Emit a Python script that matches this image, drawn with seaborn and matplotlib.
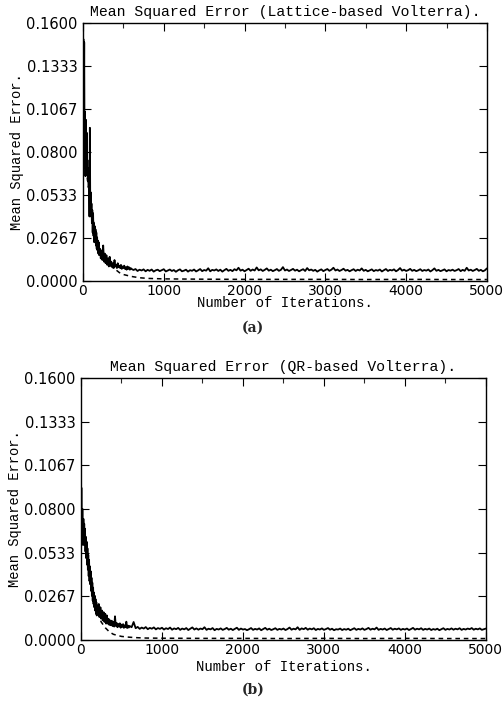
import numpy as np
import pandas as pd
import matplotlib
matplotlib.use("Agg")
import matplotlib.pyplot as plt
import seaborn as sns

# ---------------- data ----------------
titles = ["Mean Squared Error (Lattice-based Volterra).",
          "Mean Squared Error (QR-based Volterra)."]
captions = ["(a)", "(b)"]
xlabel = "Number of Iterations."
ylabel = "Mean Squared Error."
yticks = [0.0, 0.0267, 0.0533, 0.0800, 0.1067, 0.1333, 0.1600]
ytick_labels = ["0.0000", "0.0267", "0.0533", "0.0800", "0.1067", "0.1333", "0.1600"]
xticks = [0, 1000, 2000, 3000, 4000, 5000]
xtick_labels = ["0", "1000", "2000", "3000", "4000", "5000"]

# iteration grids for the noisy (solid) curves
iter_early = np.arange(0, 201, 5)      # 41 points
iter_mid = np.arange(210, 601, 10)     # 40 points
iter_tail = np.arange(625, 5001, 25)   # 176 points

# (a) Lattice-based: solid noisy curve
lat_early = [0.060, 0.150, 0.095, 0.148, 0.070, 0.105, 0.065, 0.100, 0.068, 0.092,
             0.066, 0.075, 0.062, 0.070, 0.058, 0.066, 0.040, 0.095, 0.045, 0.055,
             0.040, 0.048, 0.036, 0.044, 0.030, 0.042, 0.028, 0.036, 0.024, 0.034,
             0.026, 0.032, 0.022, 0.030, 0.020, 0.027, 0.019, 0.025, 0.017, 0.024,
             0.016]
lat_mid = [0.020, 0.014, 0.019, 0.013, 0.022, 0.012, 0.017, 0.011, 0.016, 0.010,
           0.014, 0.009, 0.015, 0.010, 0.012, 0.009, 0.011, 0.008, 0.013, 0.009,
           0.010, 0.008, 0.011, 0.0085, 0.0095, 0.008, 0.010, 0.0075, 0.009, 0.008,
           0.0095, 0.0075, 0.0085, 0.007, 0.009, 0.0075, 0.0085, 0.007, 0.008, 0.0075]
lat_tail = [
    0.0068, 0.0074, 0.0062, 0.0070, 0.0065, 0.0072, 0.0060, 0.0069, 0.0063, 0.0071, 0.0058, 0.0066, 0.0070, 0.0061, 0.0067, 0.0073,
    0.0059, 0.0065, 0.0071, 0.0062, 0.0068, 0.0057, 0.0066, 0.0072, 0.0060, 0.0064, 0.0070, 0.0058, 0.0067, 0.0063, 0.0071, 0.0059,
    0.0066, 0.0074, 0.0061, 0.0068, 0.0064, 0.0079, 0.0060, 0.0069, 0.0065, 0.0072, 0.0062, 0.0070, 0.0058, 0.0067, 0.0075, 0.0063,
    0.0069, 0.0061, 0.0073, 0.0066, 0.0082, 0.0064, 0.0070, 0.0060, 0.0068, 0.0076, 0.0063, 0.0071, 0.0065, 0.0084, 0.0066, 0.0072,
    0.0062, 0.0069, 0.0078, 0.0064, 0.0070, 0.0061, 0.0067, 0.0074, 0.0063, 0.0069, 0.0086, 0.0065, 0.0071, 0.0062, 0.0068, 0.0075,
    0.0064, 0.0070, 0.0060, 0.0067, 0.0073, 0.0062, 0.0080, 0.0066, 0.0071, 0.0063, 0.0069, 0.0058, 0.0066, 0.0072, 0.0061, 0.0068,
    0.0074, 0.0063, 0.0070, 0.0082, 0.0065, 0.0071, 0.0062, 0.0068, 0.0076, 0.0064, 0.0069, 0.0060, 0.0067, 0.0073, 0.0062, 0.0070,
    0.0065, 0.0078, 0.0063, 0.0069, 0.0060, 0.0066, 0.0072, 0.0061, 0.0068, 0.0064, 0.0071, 0.0059, 0.0067, 0.0074, 0.0062, 0.0069,
    0.0065, 0.0072, 0.0060, 0.0068, 0.0080, 0.0064, 0.0070, 0.0062, 0.0067, 0.0075, 0.0063, 0.0069, 0.0061, 0.0066, 0.0073, 0.0062,
    0.0068, 0.0064, 0.0071, 0.0059, 0.0067, 0.0078, 0.0063, 0.0069, 0.0061, 0.0066, 0.0072, 0.0060, 0.0068, 0.0064, 0.0070, 0.0062,
    0.0067, 0.0074, 0.0061, 0.0069, 0.0063, 0.0082, 0.0065, 0.0070, 0.0062, 0.0068, 0.0075, 0.0063, 0.0069, 0.0060, 0.0066, 0.0078]

# (b) QR-based: solid noisy curve
qr_early = [0.055, 0.093, 0.060, 0.080, 0.080, 0.058, 0.074, 0.062, 0.071, 0.058,
            0.068, 0.054, 0.063, 0.050, 0.060, 0.046, 0.056, 0.043, 0.052, 0.039,
            0.049, 0.036, 0.045, 0.034, 0.042, 0.030, 0.038, 0.027, 0.035, 0.024,
            0.032, 0.022, 0.029, 0.020, 0.027, 0.018, 0.025, 0.016, 0.023, 0.015,
            0.021]
qr_mid = [0.016, 0.022, 0.014, 0.020, 0.013, 0.018, 0.012, 0.017, 0.011, 0.016,
          0.010, 0.015, 0.0100, 0.013, 0.0092, 0.012, 0.0090, 0.0118, 0.0085, 0.0110,
          0.0082, 0.0145, 0.0086, 0.0105, 0.0078, 0.0098, 0.0082, 0.0102, 0.0075, 0.0094,
          0.0080, 0.0097, 0.0074, 0.0090, 0.0078, 0.0112, 0.0073, 0.0088, 0.0076, 0.0086]
qr_tail = [
    0.0078, 0.0110, 0.0072, 0.0080, 0.0068, 0.0076, 0.0070, 0.0079, 0.0066, 0.0074, 0.0069, 0.0077, 0.0065, 0.0073, 0.0068, 0.0075,
    0.0064, 0.0072, 0.0067, 0.0076, 0.0063, 0.0071, 0.0066, 0.0074, 0.0062, 0.0070, 0.0065, 0.0073, 0.0061, 0.0069, 0.0077, 0.0064,
    0.0071, 0.0063, 0.0070, 0.0066, 0.0078, 0.0062, 0.0069, 0.0065, 0.0073, 0.0060, 0.0068, 0.0064, 0.0071, 0.0062, 0.0067, 0.0074,
    0.0063, 0.0069, 0.0061, 0.0068, 0.0075, 0.0062, 0.0070, 0.0064, 0.0067, 0.0060, 0.0066, 0.0073, 0.0062, 0.0068, 0.0064, 0.0071,
    0.0060, 0.0067, 0.0074, 0.0063, 0.0069, 0.0061, 0.0066, 0.0072, 0.0062, 0.0068, 0.0064, 0.0070, 0.0061, 0.0067, 0.0076, 0.0063,
    0.0069, 0.0065, 0.0078, 0.0062, 0.0071, 0.0066, 0.0074, 0.0063, 0.0070, 0.0065, 0.0072, 0.0061, 0.0068, 0.0064, 0.0071, 0.0062,
    0.0067, 0.0073, 0.0063, 0.0069, 0.0060, 0.0066, 0.0064, 0.0070, 0.0061, 0.0067, 0.0063, 0.0069, 0.0060, 0.0066, 0.0072, 0.0062,
    0.0068, 0.0064, 0.0071, 0.0062, 0.0067, 0.0074, 0.0063, 0.0069, 0.0065, 0.0076, 0.0062, 0.0068, 0.0064, 0.0070, 0.0061, 0.0067,
    0.0073, 0.0063, 0.0069, 0.0065, 0.0071, 0.0062, 0.0068, 0.0064, 0.0070, 0.0061, 0.0067, 0.0074, 0.0063, 0.0069, 0.0065, 0.0072,
    0.0062, 0.0068, 0.0064, 0.0070, 0.0061, 0.0067, 0.0063, 0.0069, 0.0060, 0.0066, 0.0072, 0.0062, 0.0068, 0.0064, 0.0071, 0.0063,
    0.0069, 0.0065, 0.0072, 0.0062, 0.0068, 0.0064, 0.0070, 0.0066, 0.0073, 0.0063, 0.0069, 0.0065, 0.0071, 0.0062, 0.0066, 0.0070]

# dashed (smooth) curves
dash_iter = [0, 25, 50, 75, 100, 125, 150, 175, 200, 250, 300, 350, 400, 450, 500,
             600, 700, 800, 1000, 1500, 2000, 2500, 3000, 3500, 4000, 4500, 5000]
lat_dash = [0.070, 0.072, 0.065, 0.056, 0.046, 0.038, 0.030, 0.024, 0.018, 0.014,
            0.011, 0.0090, 0.0072, 0.0052, 0.0040, 0.0028, 0.0020, 0.0016, 0.0013,
            0.0011, 0.0010, 0.0010, 0.0010, 0.0009, 0.0010, 0.0009, 0.0009]
qr_dash = [0.060, 0.066, 0.062, 0.052, 0.042, 0.034, 0.027, 0.021, 0.017, 0.011,
           0.0075, 0.0050, 0.0035, 0.0028, 0.0022, 0.0017, 0.0014, 0.0012, 0.0011,
           0.0010, 0.0010, 0.0009, 0.0010, 0.0009, 0.0010, 0.0009, 0.0009]

# ---------------- plotting ----------------
sns.set_theme(style="ticks")
plt.rcParams["font.family"] = ["DejaVu Sans"]
MONO = "Liberation Mono"

fig = plt.figure(figsize=(5.03, 7.09), dpi=100)
ax_a = fig.add_axes([0.165, 0.6037, 0.803, 0.3639])
ax_b = fig.add_axes([0.161, 0.0973, 0.805, 0.3695])

iters_full = np.concatenate([iter_early, iter_mid, iter_tail])
panels = [
    (ax_a, np.concatenate([lat_early, lat_mid, lat_tail]), lat_dash),
    (ax_b, np.concatenate([qr_early, qr_mid, qr_tail]), qr_dash),
]

for i, (ax, solid, dashed) in enumerate(panels):
    df_s = pd.DataFrame({"iter": iters_full, "mse": solid})
    df_d = pd.DataFrame({"iter": dash_iter, "mse": dashed})
    sns.lineplot(data=df_d, x="iter", y="mse", ax=ax, color="black",
                 linewidth=1.1, dashes=False, estimator=None)
    ax.lines[-1].set_dashes([3, 2.5])
    sns.lineplot(data=df_s, x="iter", y="mse", ax=ax, color="black",
                 linewidth=1.3, estimator=None)

    ax.set_xlim(0, 5000)
    ax.set_ylim(0, 0.16)
    ax.set_xticks(xticks)
    ax.set_xticklabels(xtick_labels)
    ax.set_xticks(np.arange(500, 5000, 1000), minor=True)
    ax.set_yticks(yticks)
    ax.set_yticklabels(ytick_labels)
    ax.tick_params(axis="both", which="major", direction="in", top=True,
                   right=True, length=6, width=0.8, colors="black")
    ax.tick_params(axis="y", which="major", labelsize=10.5, pad=4)
    ax.tick_params(axis="x", which="major", labelsize=10, pad=2)
    ax.tick_params(axis="x", which="minor", direction="in", top=True,
                   bottom=False, length=3.5, width=0.8)
    for sp in ax.spines.values():
        sp.set_visible(True)
        sp.set_linewidth(1.0)
        sp.set_color("black")
    ax.set_title(titles[i], fontfamily=MONO, fontsize=10.6,
                 pad=5, color="black")
    ax.set_ylabel(ylabel, fontfamily=MONO, fontsize=9.9,
                  labelpad=1, color="black")
    ax.set_xlabel(xlabel, fontfamily=MONO, fontsize=10.1,
                  labelpad=-1 if i == 0 else 2, color="black")
    ax.set_facecolor("white")

fig.text(0.502, 1 - 328 / 709, captions[0], ha="center", va="center",
         fontfamily="DejaVu Serif", fontweight="bold", fontsize=10)
fig.text(0.504, 1 - 690 / 709, captions[1], ha="center", va="center",
         fontfamily="DejaVu Serif", fontweight="bold", fontsize=10)

fig.savefig("out.png", dpi=100, facecolor="white")
